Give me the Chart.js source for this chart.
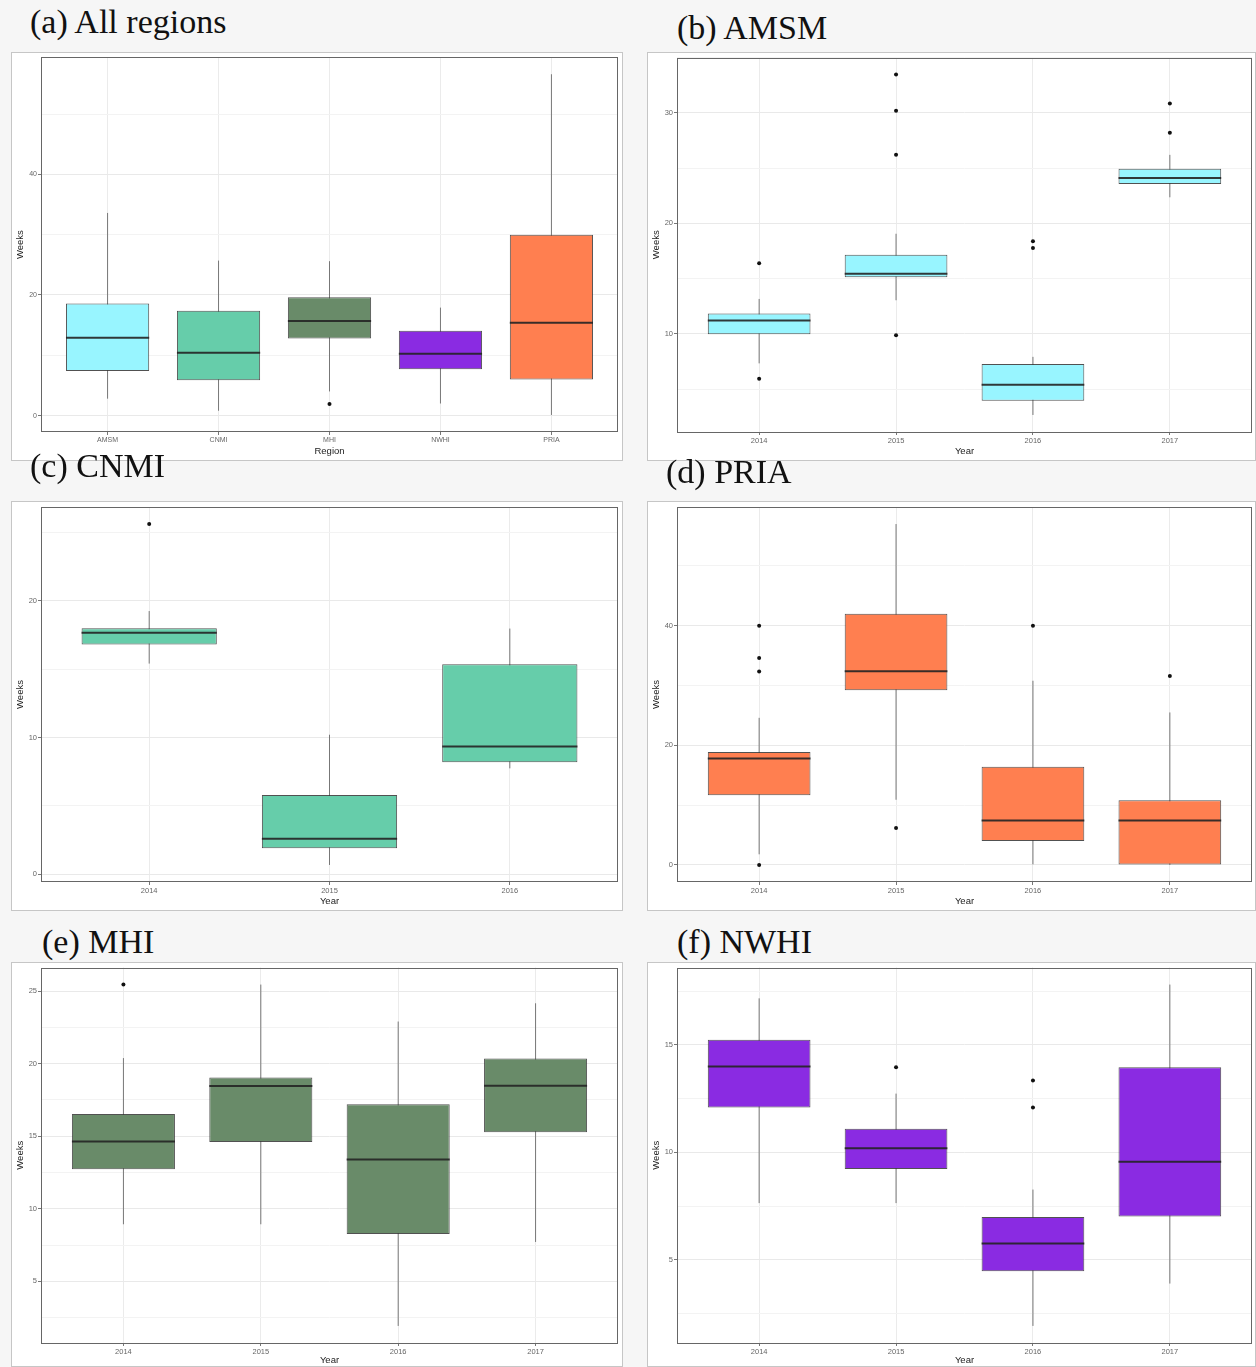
<!DOCTYPE html>
<html>
<head>
<meta charset="utf-8">
<script src="https://cdn.jsdelivr.net/npm/chart.js@4.4.0/dist/chart.umd.min.js"></script>
<style>
  body { margin: 0; width: 1256px; height: 1367px; background: #f6f6f6; position: relative; overflow: hidden; }
  .panel { position: absolute; background: #fff; border: 1px solid #c6c6c6; box-sizing: border-box; }
  .panel div { position: absolute; left: -1px; top: -1px; right: -1px; bottom: -1px; }
  .ttl { position: absolute; z-index: 5; font-family: "Liberation Serif", "Times New Roman", serif; font-size: 34px; line-height: 34px; color: #111; white-space: nowrap; }
</style>
</head>
<body>

<div class="panel" style="left:11px;top:52px;width:612px;height:409px"><div><canvas id="pa"></canvas></div></div>
<div class="panel" style="left:647px;top:52px;width:609px;height:409px"><div><canvas id="pb"></canvas></div></div>
<div class="panel" style="left:11px;top:501px;width:612px;height:410px"><div><canvas id="pc"></canvas></div></div>
<div class="panel" style="left:647px;top:501px;width:609px;height:410px"><div><canvas id="pd"></canvas></div></div>
<div class="panel" style="left:11px;top:962px;width:612px;height:405px"><div><canvas id="pe"></canvas></div></div>
<div class="panel" style="left:647px;top:962px;width:609px;height:405px"><div><canvas id="pf"></canvas></div></div>

<div class="ttl" style="left:30px;top:5px">(a) All regions</div>
<div class="ttl" style="left:677px;top:11px">(b) AMSM</div>
<div class="ttl" style="left:30px;top:449px">(c) CNMI</div>
<div class="ttl" style="left:666px;top:455px">(d) PRIA</div>
<div class="ttl" style="left:42px;top:925px">(e) MHI</div>
<div class="ttl" style="left:677px;top:925px">(f) NWHI</div>

<script>
// region colours
const AMSM_COL = '#98F5FF', CNMI_COL = '#66CDAA', MHI_COL = '#698B69', NWHI_COL = '#8A2BE2', PRIA_COL = '#FF7F50';

// (a) all regions
const regions = ['AMSM', 'CNMI', 'MHI', 'NWHI', 'PRIA'];
const regLow  = [2.8, 0.8, 4.0, 2.0, 0.1];
const regQ1   = [7.4, 5.85, 12.8, 7.7, 6.0];
const regMed  = [12.9, 10.4, 15.7, 10.25, 15.4];
const regQ3   = [18.6, 17.4, 19.6, 14.05, 30.0];
const regHigh = [33.6, 25.7, 25.6, 17.9, 56.6];
const regOut  = [[], [], [1.9], [], []];

const years4 = ['2014', '2015', '2016', '2017'];
const years3 = ['2014', '2015', '2016'];

// (b) AMSM
const amsmLow  = [7.33, 13.04, 2.66, 22.36];
const amsmQ1   = [9.97, 15.12, 3.95, 23.57];
const amsmMed  = [11.2, 15.45, 5.4, 24.1];
const amsmQ3   = [11.84, 17.17, 7.27, 24.95];
const amsmHigh = [13.16, 19.06, 7.92, 26.2];
const amsmOut  = [[16.38, 5.94], [33.47, 30.19, 26.2, 9.88], [18.39, 17.76], [30.85, 28.2]];

// (c) CNMI
const cnmiLow  = [15.4, 0.68, 7.74];
const cnmiQ1   = [16.79, 1.9, 8.18];
const cnmiMed  = [17.66, 2.6, 9.34];
const cnmiQ3   = [17.98, 5.79, 15.35];
const cnmiHigh = [19.24, 10.2, 17.96];
const cnmiOut  = [[25.6], [], []];

// (d) PRIA
const priaLow  = [1.78, 10.9, 0.1, 0];
const priaQ1   = [11.65, 29.2, 4.0, 0];
const priaMed  = [17.8, 32.4, 7.44, 7.44];
const priaQ3   = [18.87, 42.0, 16.4, 10.8];
const priaHigh = [24.6, 57.0, 30.8, 25.5];
const priaOut  = [[40.0, 34.6, 32.35, 0], [6.16], [40.0], [31.6]];

// (e) MHI
const mhiLow  = [8.93, 8.93, 1.92, 7.71];
const mhiQ1   = [12.72, 14.6, 8.26, 15.28];
const mhiMed  = [14.63, 18.46, 13.39, 18.48];
const mhiQ3   = [16.53, 19.05, 17.2, 20.36];
const mhiHigh = [20.39, 25.46, 22.91, 24.17];
const mhiOut  = [[25.46], [], [], []];

// (f) NWHI
const nwhiLow  = [7.64, 7.64, 1.93, 3.9];
const nwhiQ1   = [12.09, 9.23, 4.47, 7.02];
const nwhiMed  = [13.99, 10.19, 5.76, 9.56];
const nwhiQ3   = [15.23, 11.1, 7.0, 13.96];
const nwhiHigh = [17.16, 12.73, 8.27, 17.8];
const nwhiOut  = [[], [13.96], [13.34, 12.09], []];

// border around the plotting area (ggplot theme_bw)
const frame = {
  id: 'frame',
  afterDraw(chart) {
    const a = chart.chartArea, c = chart.ctx;
    c.save();
    c.strokeStyle = '#666';
    c.lineWidth = 1;
    c.strokeRect(Math.round(a.left) + 0.5, Math.round(a.top) + 0.5, Math.round(a.width) - 1, Math.round(a.height) - 1);
    c.restore();
  }
};

function boxPanel(id, cats, low, q1, med, q3, high, out, fill, step, xTitle, m) {
  const half = 0.375;
  const whisk = [], meds = [], boxes = [], pts = [];
  cats.forEach((c, i) => {
    const x = i + 1;
    whisk.push({x: x, y: low[i]}, {x: x, y: high[i]}, {x: x, y: null});
    meds.push({x: x - half, y: med[i]}, {x: x + half, y: med[i]}, {x: x, y: null});
    boxes.push({x: x, y: [q1[i], q3[i]]});
    out[i].forEach(v => pts.push({x: x, y: v}));
  });
  const all = low.concat(high, out.flat());
  const lo = Math.min(...all), hi = Math.max(...all), pad = (hi - lo) * 0.05;

  new Chart(document.getElementById(id), {
    type: 'bar',
    data: {
      datasets: [
        { type: 'scatter', data: pts, order: 0, pointRadius: 2, pointBackgroundColor: '#111', pointBorderWidth: 0 },
        { type: 'line', data: meds, order: 1, borderColor: 'rgba(35,35,35,0.9)', borderWidth: 2, pointRadius: 0, spanGaps: false },
        { data: boxes, order: 2, backgroundColor: fill, borderColor: 'rgba(50,50,50,0.85)', borderWidth: 1,
          borderSkipped: false, barPercentage: 1, categoryPercentage: 2 * half },
        { type: 'line', data: whisk, order: 3, borderColor: '#777', borderWidth: 1, pointRadius: 0, spanGaps: false }
      ]
    },
    options: {
      responsive: true,
      maintainAspectRatio: false,
      animation: false,
      events: [],
      layout: { padding: { left: 0, top: m.top, right: m.right, bottom: 0 } },
      plugins: { legend: { display: false }, tooltip: { enabled: false } },
      scales: {
        x: {
          type: 'linear',
          offset: false,
          min: 0.4,
          max: cats.length + 0.6,
          afterBuildTicks: s => { s.ticks = cats.map((c, i) => ({ value: i + 1 })); },
          afterFit: s => { s.height = m.bottom; },
          ticks: { autoSkip: false, maxRotation: 0, padding: 1, color: '#666',
                   font: { family: 'Liberation Sans', size: m.tick },
                   callback: v => cats[Math.round(v) - 1] },
          grid: { offset: false, color: '#ebebeb', tickColor: '#777', tickLength: 3 },
          border: { display: false },
          title: { display: true, text: xTitle, color: '#222', padding: { top: 0, bottom: m.xpad },
                   font: { family: 'Liberation Sans', size: 9.5 } }
        },
        y: {
          min: lo - pad,
          max: hi + pad,
          afterBuildTicks: s => {
            const h = step / 2, t = [];
            for (let v = Math.ceil(s.min / h) * h; v <= s.max; v += h) {
              t.push({ value: v, minor: Math.abs(v / step - Math.round(v / step)) > 1e-6 });
            }
            s.ticks = t;
          },
          afterFit: s => { s.width = m.left; },
          ticks: { autoSkip: false, padding: 1, color: '#666',
                   font: { family: 'Liberation Sans', size: m.tick },
                   callback: function (v, i, t) { return t[i].minor ? '' : String(Math.round(v)); } },
          grid: {
            color: ctx => (ctx.tick && ctx.tick.minor) ? '#f3f3f3' : '#e9e9e9',
            tickColor: ctx => (ctx.tick && ctx.tick.minor) ? 'rgba(0,0,0,0)' : '#777',
            tickLength: 3
          },
          border: { display: false },
          title: { display: true, text: 'Weeks', color: '#222', padding: { top: 4, bottom: 0 },
                   font: { family: 'Liberation Sans', size: 9.5 } }
        }
      }
    },
    plugins: [frame]
  });
}

boxPanel('pa', regions, regLow, regQ1, regMed, regQ3, regHigh, regOut,
  [AMSM_COL, CNMI_COL, MHI_COL, NWHI_COL, PRIA_COL], 20, 'Region',
  { left: 30, top: 5, right: 5, bottom: 29, xpad: 4, tick: 7 });
boxPanel('pb', years4, amsmLow, amsmQ1, amsmMed, amsmQ3, amsmHigh, amsmOut, AMSM_COL, 10, 'Year',
  { left: 30, top: 5, right: 2, bottom: 29, xpad: 4, tick: 7.5 });
boxPanel('pc', years3, cnmiLow, cnmiQ1, cnmiMed, cnmiQ3, cnmiHigh, cnmiOut, CNMI_COL, 10, 'Year',
  { left: 30, top: 6, right: 5, bottom: 29, xpad: 4, tick: 7.5 });
boxPanel('pd', years4, priaLow, priaQ1, priaMed, priaQ3, priaHigh, priaOut, PRIA_COL, 20, 'Year',
  { left: 30, top: 6, right: 2, bottom: 29, xpad: 4, tick: 7.5 });
boxPanel('pe', years4, mhiLow, mhiQ1, mhiMed, mhiQ3, mhiHigh, mhiOut, MHI_COL, 5, 'Year',
  { left: 30, top: 5, right: 5, bottom: 24, xpad: 0.5, tick: 7.5 });
boxPanel('pf', years4, nwhiLow, nwhiQ1, nwhiMed, nwhiQ3, nwhiHigh, nwhiOut, NWHI_COL, 5, 'Year',
  { left: 30, top: 5, right: 2, bottom: 24, xpad: 0.5, tick: 7.5 });
</script>
</body>
</html>
